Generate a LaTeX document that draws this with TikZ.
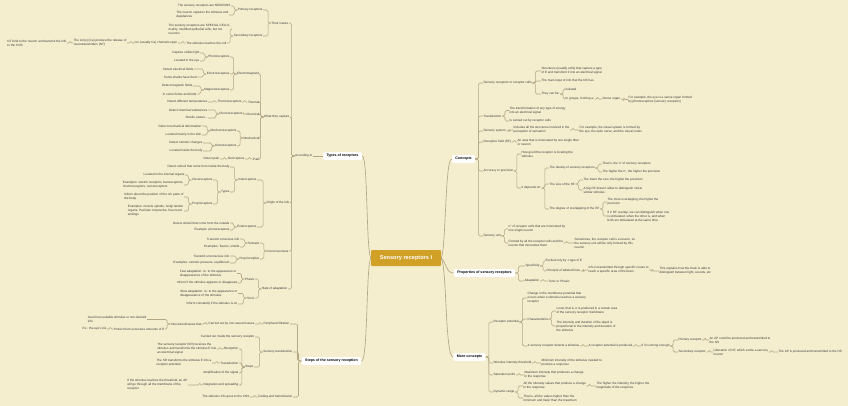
\documentclass[tikz,border=0pt]{standalone}
\usepackage{fontspec}
\setmainfont{Liberation Sans}
\definecolor{bg}{HTML}{F4EDCE}
\definecolor{linec}{HTML}{B3A784}
\definecolor{gold}{HTML}{D1A027}
\definecolor{txt}{HTML}{3A3A3A}
\tikzset{
  base/.style={font=\fontsize{3.1}{3.9}\selectfont, text=txt, inner sep=0.4pt, align=left},
  L/.style={base, anchor=east},
  R/.style={base, anchor=west},
  topic/.style={fill=white, rounded corners=1.5pt, font=\fontsize{3.6}{4.2}\selectfont\bfseries, inner xsep=3.5pt, inner ysep=2.2pt, text=black, anchor=center},
  central/.style={fill=gold, rounded corners=1pt, font=\fontsize{5.6}{6.5}\selectfont\bfseries, text=white, minimum width=70pt, minimum height=16pt, anchor=center},
  conn/.style={draw=linec, line width=0.55pt, rounded corners=1.5pt},
  mainc/.style={draw=linec, line width=0.65pt}
}
\begin{document}
\begin{tikzpicture}[x=1pt,y=-1pt]
\fill[bg] (0,0) rectangle (848,406);
\useasboundingbox (0,0) rectangle (848,406);

% ---------- central ----------
\node[central] (center) at (406,258) {Sensory receptors I};

% ---------- Types of receptors ----------
\node[topic] (types) at (342.5,156) {Types of receptors};
\node[L] (acc) at (313,156) {According to};
\node[L] (nature) at (289,23) {Their nature};
\node[L] (prim) at (263,10) {Primary receptors};
\node[L] (pr1) at (231,6) {The sensory receptors are NEURONS};
\node[L] (pr2) at (229,15) {The neuron captures the stimulus and\\depolarizes};
\node[L] (sec) at (263,36) {Secondary receptors};
\node[L] (sr1) at (231,29) {The sensory receptors are SPECIAL CELLS,\\mainly, modified epithelial cells, but not\\neurons};
\node[L] (sr2) at (227,43) {The stimulus reaches the cell};
\node[L] (ion) at (178,43) {Ion (usually Ca) channels open};
\node[L] (ionr) at (127,43) {The ion(s) (Ca) produce the release of\\neurotransmitters (NT)};
\node[L] (nt) at (67,43) {NT bind to the neuron and transmit the info\\to the CNS};

\node[L] (capt) at (290,117) {What they capture};
\node[L] (em) at (260,74) {Electromagnetic};
\node[L] (photo) at (230,57) {Photoreceptors};
\node[L] (ph1) at (200,53) {Capture visible light};
\node[L] (ph2) at (200,61) {Located in the eye};
\node[L] (elec) at (230,74) {Electroreceptors};
\node[L] (el1) at (194,69) {Detect electrical fields};
\node[L] (el2) at (198,77) {Some sharks have them};
\node[L] (mag) at (230,90) {Magnetoreceptors};
\node[L] (mg1) at (193,86) {Detect magnetic fields};
\node[L] (mg2) at (197,94) {In some fishes and birds};
\node[L] (therm) at (260,102) {Thermal};
\node[L] (thermo) at (242,102) {Thermoreceptors};
\node[L] (th1) at (208,102) {Detect different temperatures};
\node[L] (chem) at (260,114) {Chemical};
\node[L] (chemo) at (243,114) {Chemoreceptors};
\node[L] (ch1) at (208,110) {Detect chemical substances};
\node[L] (ch2) at (208,118) {Smells, tastes...};
\node[L] (mech) at (260,138) {Mechanical};
\node[L] (mecho) at (237,131) {Mechanoreceptors};
\node[L] (me1) at (202,126) {Detect mechanical deformation};
\node[L] (me2) at (202,135) {Located mainly in the skin};
\node[L] (osmo) at (237,146) {Osmoreceptors};
\node[L] (os1) at (203,143) {Detect osmotic changes};
\node[L] (os2) at (203,151) {Located inside the body};
\node[L] (pain) at (260,159) {Pain};
\node[L] (noci) at (245,159) {Nociceptors};
\node[L] (pa1) at (220,159) {Detect pain};

\node[L] (orig) at (290,203) {Origin of the info};
\node[L] (intero) at (257,180) {Interoceptors};
\node[L] (in1) at (230,167) {Detect stimuli that come from inside the body};
\node[L] (types2) at (230,192) {Types};
\node[L] (visc) at (213,180) {Visceroceptors};
\node[L] (vi1) at (185,175) {Located in the internal organs};
\node[L] (vi2) at (184,185) {Examples: stretch receptors, baroreceptors,\\chemoreceptors, osmoreceptors};
\node[L] (propr) at (213,204) {Proprioceptors};
\node[L] (pp1) at (184,197) {Inform about the position of the n/n parts of\\the body};
\node[L] (pp2) at (184,211) {Examples: muscle spindle, Golgi tendon\\organs, Pacinian corpuscles, free nerve\\endings};
\node[L] (extero) at (257,227) {Exteroceptors};
\node[L] (ex1) at (230,223) {Detect stimuli that come from the outside};
\node[L] (ex2) at (230,230) {Example: photoreceptors};

\node[L] (consc) at (289,251) {Consciousness};
\node[L] (somat) at (260,243) {Somatic};
\node[L] (so1) at (240,239) {Transmit conscious info};
\node[L] (so2) at (240,247) {Examples: flavors, smells};
\node[L] (propc) at (260,259) {Proprioceptive};
\node[L] (pc1) at (230,256) {Transmit unconscious info};
\node[L] (pc2) at (230,263) {Examples: osmotic pressure, equilibrium};

\node[L] (rate) at (288,289) {Rate of adaptation};
\node[L] (phasic) at (255,279) {Phasic};
\node[L] (pha1) at (237,273.5) {Fast adaptation: ie: to the appearance or\\disappearance of the stimulus};
\node[L] (pha2) at (238,283) {Inform if the stimulus appears or disappears};
\node[L] (tonic) at (255,298) {Tonic};
\node[L] (to1) at (238,293.5) {Slow adaptation: ie: to the appearance or\\disappearance of the stimulus};
\node[L] (to2) at (238,304) {Inform constantly if the stimulus is on};

% ---------- Steps ----------
\node[topic] (steps) at (331.5,361) {Steps of the sensory reception};
\node[L] (perf) at (290,324) {Peripheral filtration};
\node[L] (pf1) at (255,324) {Carried out by non-neural tissues};
\node[L] (pf2) at (202,324) {Structures/tissues that};
\node[L] (pf3) at (147,319.5) {Avoid non-suitable stimulus or non-desired\\info};
\node[L] (pf4) at (165,329) {Protect from excessive amounts of E};
\node[L] (pf5) at (107,329) {Ex.: the eye's iris};
\node[L] (strans) at (293,352) {Sensory transduction};
\node[L] (st1) at (255,337) {Carried out inside the sensory receptor};
\node[L] (st2) at (254,367) {Steps};
\node[L] (abs) at (239,349) {Absorption};
\node[L] (ab1) at (217,349) {The sensory receptor (SR) receives the\\stimulus and transforms the stimulus E into\\an electrical signal};
\node[L] (trd) at (239,363) {Transduction};
\node[L] (tr1) at (212,363) {The SR transforms the stimulus E into a\\receptor potential};
\node[L] (ampl) at (239,373) {Amplification of the signal};
\node[L] (integ) at (239,385) {Integration and spreading};
\node[L] (ig1) at (188,385) {If the stimulus reaches the threshold, an AP\\will go through all the membrane of the\\receptor};
\node[L] (coding) at (293,397) {Coding and transmission};
\node[L] (cd1) at (250,397) {The stimulus info goes to the CNS};

% ---------- Concepts ----------
\node[topic] (concepts) at (463.5,159) {Concepts};
\node[R] (srrc) at (483,83) {Sensory receptors or receptor cells};
\node[R] (s1) at (541,71) {Structures (usually cells) that capture a type\\of E and transform it into an electrical signal};
\node[R] (s2) at (541,81) {The main input of info that the NS has};
\node[R] (s3) at (541,94) {They can be:};
\node[R] (iso) at (565,89) {Isolated};
\node[R] (grp) at (565,99) {In groups, forming a:};
\node[R] (so) at (602,99) {Sense organ};
\node[R] (so1r) at (628,99.5) {For example, the eye is a sense organ formed\\by photoreceptors (sensory receptors)};
\node[R] (trans) at (483,116) {Transduction};
\node[R] (t1) at (509,110.5) {The transformation of any type of energy\\into an electrical signal};
\node[R] (t2) at (509,121) {Is carried out by receptor cells};
\node[R] (ssys) at (483,131) {Sensory system};
\node[R] (ss1) at (513,130) {Includes all the structures involved in the\\perception of sensation};
\node[R] (ss2) at (579,130) {For example, the visual system is formed by\\the eye, the optic nerve, and the visual cortex};
\node[R] (rf) at (483,142) {Receptive field (RF)};
\node[R] (rf1) at (517,142) {An area that is innervated by one single fiber\\or neuron};
\node[R] (acc2) at (483,171) {Accuracy or precision};
\node[R] (ap1) at (521,154) {How good the receptor is locating the\\stimulus};
\node[R] (ap2) at (521,188) {It depends on:};
\node[R] (dens) at (549,168) {The density of sensory receptors};
\node[R] (d1) at (602,164) {That is, the n° of sensory receptors};
\node[R] (d2) at (602,172) {The higher the n°, the higher the precision};
\node[R] (size) at (549,184) {The size of the RF};
\node[R] (z1) at (583,180) {The lower the size, the higher the precision};
\node[R] (z2) at (583,190) {A big RF doesn't allow to distinguish closer\\similar stimulus};
\node[R] (ovl) at (549,209) {The degree of overlapping of the RF};
\node[R] (o1) at (607,202) {The more overlapping, the higher the\\precision};
\node[R] (o2) at (607,216) {If 2 RF overlap, we can distinguish when one\\is stimulated, when the other is, and when\\both are stimulated at the same time.};
\node[R] (sunit) at (483,236) {Sensory unit};
\node[R] (su1) at (508,229) {n° of receptor cells that are innervated by\\one single neuron};
\node[R] (su2) at (508,243) {Formed by all the receptor cells and the\\neuron that innervates them};
\node[R] (su3) at (574,243) {Sometimes, the receptor cell is a neuron, so\\the sensory unit will be only formed by this\\neuron};

% ---------- Properties ----------
\node[topic] (props) at (484.5,273) {Properties of sensory receptors};
\node[R] (spec) at (525,266) {Specificity};
\node[R] (sp1) at (545,261) {Excited only by 1 type of E};
\node[R] (sp2) at (546,271) {Principle of labeled lines};
\node[R] (sp3) at (588,270) {Info is transmitted through specific routes to\\reach a specific area of the brain};
\node[R] (sp4) at (659,271) {This explains how the brain is able to\\distinguish between light, sounds, etc};
\node[R] (adapt) at (524,281) {Adaptation};
\node[R] (ad1) at (548,281) {Tonic or Phasic};

% ---------- More concepts ----------
\node[topic] (more) at (469.5,357) {More concepts};
\node[R] (rp) at (493,322) {Receptor potential};
\node[R] (rp1) at (527,298) {Change in the membrane potential that\\occurs when a stimulus reaches a sensory\\receptor};
\node[R] (rp2) at (527,319) {Characteristics};
\node[R] (c1) at (556,311) {Local, that is, it is produced in a certain area\\of the sensory receptor membrane};
\node[R] (c2) at (556,326) {The intensity and duration of the depol is\\proportional to the intensity and duration of\\the stimulus};
\node[R] (rp3) at (527,346) {A sensory receptor detects a stimulus};
\node[R] (rp4) at (588,346) {A receptor potential is produced};
\node[R] (rp5) at (641,346) {If it is strong enough};
\node[R] (prim2) at (678,340) {Primary receptor};
\node[R] (pr2a) at (709,340) {An AP could be produced and transmitted to\\the NS};
\node[R] (sec2) at (678,352) {Secondary receptor};
\node[R] (sc1) at (713,352) {Liberation of NT, which excite a sensory\\neuron};
\node[R] (sc2) at (778,352) {The AP is produced and transmitted to the NS};
\node[R] (thr) at (493,363) {Stimulus intensity threshold};
\node[R] (th1r) at (541,363) {Minimum intensity of the stimulus needed to\\produce a response};
\node[R] (sat) at (493,375) {Saturation point};
\node[R] (sa1) at (524,375) {Maximum intensity that produces a change\\in the response};
\node[R] (dyn) at (493,392) {Dynamic range};
\node[R] (dy1) at (523,386) {All the intensity values that produce a change\\in the response};
\node[R] (dy1b) at (596,386) {The higher the intensity, the higher the\\magnitude of the response};
\node[R] (dy2) at (523,398) {That is, all the values higher than the\\minimum and lower than the maximum};

% ---------- main connectors ----------
\draw[mainc] (types.east) .. controls (368,156) and (366,250) .. (center.west);
\draw[mainc] (steps.east) .. controls (368,361) and (366,266) .. (center.west);
\draw[mainc] (center.east) .. controls (446,250) and (445,159) .. (concepts.west);
\draw[mainc] (center.east) .. controls (446,262) and (446,273) .. (props.west);
\draw[mainc] (center.east) .. controls (447,268) and (445,357) .. (more.west);

% ---------- left connectors ----------
\draw[conn] (types.west) -- (acc.east);
\draw[conn] (steps.west) -- ++(-4,0) |- (perf.east);
\foreach \p/\c in {acc/nature, acc/capt, acc/orig, acc/consc, acc/rate,
  nature/prim, nature/sec, prim/pr1, prim/pr2, sec/sr1, sec/sr2, sr2/ion, ion/ionr, ionr/nt,
  capt/em, capt/therm, capt/chem, capt/mech, capt/pain,
  em/photo, em/elec, em/mag, photo/ph1, photo/ph2, elec/el1, elec/el2, mag/mg1, mag/mg2,
  therm/thermo, thermo/th1, chem/chemo, chemo/ch1, chemo/ch2,
  mech/mecho, mech/osmo, mecho/me1, mecho/me2, osmo/os1, osmo/os2, pain/noci, noci/pa1,
  orig/intero, orig/extero, intero/in1, intero/types2, types2/visc, types2/propr,
  visc/vi1, visc/vi2, propr/pp1, propr/pp2, extero/ex1, extero/ex2,
  consc/somat, consc/propc, somat/so1, somat/so2, propc/pc1, propc/pc2,
  rate/phasic, rate/tonic, phasic/pha1, phasic/pha2, tonic/to1, tonic/to2,
  steps/strans, steps/coding, perf/pf1, pf1/pf2, pf2/pf3, pf2/pf4, pf4/pf5,
  strans/st1, strans/st2, st2/abs, st2/trd, st2/ampl, st2/integ, abs/ab1, trd/tr1, integ/ig1,
  coding/cd1}
  \draw[conn] (\p.west) -- ++(-3,0) |- (\c.east);

% ---------- right connectors ----------
\foreach \p/\c in {concepts/srrc, concepts/trans, concepts/ssys, concepts/rf, concepts/acc2, concepts/sunit,
  srrc/s1, srrc/s2, srrc/s3, s3/iso, s3/grp, grp/so, so/so1r,
  trans/t1, trans/t2, ssys/ss1, ss1/ss2, rf/rf1,
  acc2/ap1, acc2/ap2, ap2/dens, ap2/size, ap2/ovl, dens/d1, dens/d2, size/z1, size/z2, ovl/o1, ovl/o2,
  sunit/su1, sunit/su2, su2/su3,
  props/spec, props/adapt, spec/sp1, spec/sp2, sp2/sp3, sp3/sp4, adapt/ad1,
  more/rp, more/thr, more/sat, more/dyn, rp/rp1, rp/rp2, rp/rp3, rp2/c1, rp2/c2, rp3/rp4, rp4/rp5,
  rp5/prim2, rp5/sec2, prim2/pr2a, sec2/sc1, sc1/sc2, thr/th1r, sat/sa1, dyn/dy1, dyn/dy2, dy1/dy1b}
  \draw[conn] (\p.east) -- ++(3,0) |- (\c.west);
\end{tikzpicture}
\end{document}
